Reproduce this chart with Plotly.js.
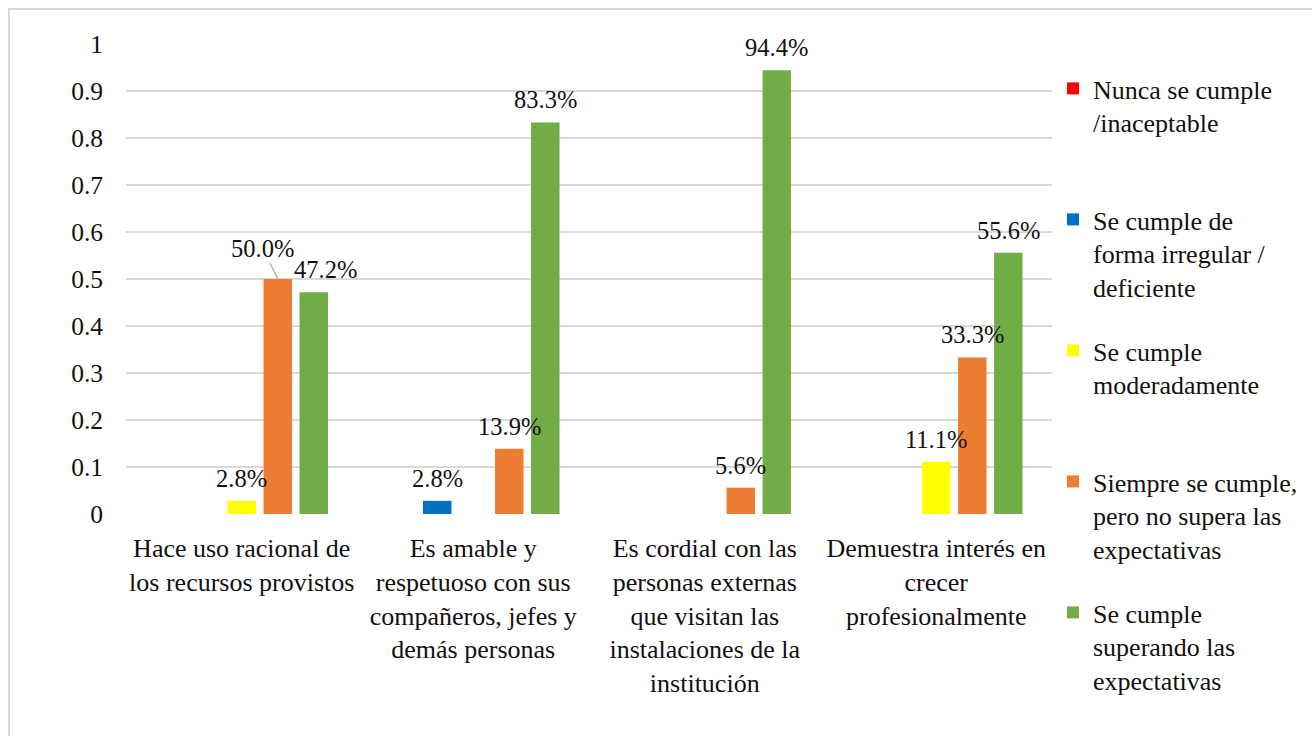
<!DOCTYPE html>
<html>
<head>
<meta charset="utf-8">
<script src="https://cdn.plot.ly/plotly-3.0.1.min.js"></script>
<style>
  html, body { margin: 0; padding: 0; background: #fff; }
  #chart { width: 1312px; height: 736px; }
</style>
</head>
<body>
<div id="chart"></div>
<script>
// Categories (x axis) and rating levels (series)
const categories = [
  "Hace uso racional de<br>los recursos provistos",
  "Es amable y<br>respetuoso con sus<br>compañeros, jefes y<br>demás personas",
  "Es cordial con las<br>personas externas<br>que visitan las<br>instalaciones de la<br>institución",
  "Demuestra interés en<br>crecer<br>profesionalmente"
];

const seriesNames = [
  "Nunca se cumple<br>/inaceptable<br> ",
  "Se cumple de<br>forma irregular /<br>deficiente",
  "Se cumple<br>moderadamente<br> ",
  "Siempre se cumple,<br>pero no supera las<br>expectativas",
  "Se cumple<br>superando las<br>expectativas"
];

const nunca      = [0, 0, 0, 0];
const irregular  = [0, 0.028, 0, 0];
const moderado   = [0.028, 0, 0, 0.111];
const siempre    = [0.500, 0.139, 0.056, 0.333];
const superando  = [0.472, 0.833, 0.944, 0.556];

const seriesValues = [nunca, irregular, moderado, siempre, superando];
const seriesColors = ["#ff0000", "#0070c0", "#ffff00", "#ed7d31", "#70ad47"];

const FONT = "Liberation Serif, Times New Roman, serif";
const TEXT_COLOR = "#111";
const BARGAP = 0.222;
const BARGROUPGAP = 0.21;

// label nudges (pixels) for a few crowded labels: key = series index + ":" + category index
const labelNudge = { "4:0": { dx: 12 } };
const labelArrow = { "3:0": { ax: -15, ay: -31 } };

const traces = seriesValues.map((vals, i) => ({
  type: "bar",
  x: categories,
  y: vals,
  name: seriesNames[i],
  legendgroup: "g" + i,
  marker: { color: seriesColors[i] },
  hoverinfo: "skip"
}));

// value labels above each non-zero bar
const labelFont = { family: FONT, size: 24.5, color: TEXT_COLOR };
const slot = (1 - BARGAP) / seriesValues.length;
const annotations = [];
seriesValues.forEach((vals, i) => {
  vals.forEach((v, c) => {
    if (v <= 0) return;
    const key = i + ":" + c;
    const xc = c + (i - (seriesValues.length - 1) / 2) * slot;
    const txt = (v * 100).toFixed(1) + "%";
    if (labelArrow[key]) {
      annotations.push({
        x: xc, y: v, xref: "x", yref: "y",
        text: txt, showarrow: true, arrowhead: 0, arrowwidth: 1.2,
        arrowcolor: "#a6a6a6", standoff: 0,
        ax: labelArrow[key].ax, ay: labelArrow[key].ay,
        font: labelFont
      });
    } else {
      const n = labelNudge[key] || {};
      annotations.push({
        x: xc, y: v, xref: "x", yref: "y",
        text: txt, showarrow: false,
        xanchor: "center", yanchor: "bottom",
        xshift: n.dx || 0, yshift: 7,
        font: labelFont
      });
    }
  });
});

const L = 126, R = 260, T = 44, B = 222;
const pw = 1312 - L - R, ph = 736 - T - B;

const layout = {
  width: 1312,
  height: 736,
  margin: { l: L, r: R, t: T, b: B, pad: 0, autoexpand: false },
  paper_bgcolor: "#ffffff",
  plot_bgcolor: "#ffffff",
  font: { family: FONT, size: 26, color: TEXT_COLOR },
  barmode: "group",
  bargap: BARGAP,
  bargroupgap: BARGROUPGAP,
  showlegend: true,
  legend: {
    x: (1053 - L) / pw,
    y: (T + ph - 65) / ph,
    xanchor: "left",
    yanchor: "top",
    valign: "top",
    tracegroupgap: 26.6,
    maxheight: 720,
    font: { family: FONT, size: 26, color: TEXT_COLOR },
    bgcolor: "rgba(0,0,0,0)"
  },
  xaxis: {
    type: "category",
    tickfont: { family: FONT, size: 26, color: TEXT_COLOR },
    ticks: "",
    showgrid: false,
    showline: false,
    zeroline: false,
    ticklabelstandoff: 16,
    automargin: false,
    fixedrange: true
  },
  yaxis: {
    range: [0, 1],
    dtick: 0.1,
    tick0: 0,
    tickfont: { family: FONT, size: 25.5, color: TEXT_COLOR },
    ticks: "",
    showgrid: true,
    gridcolor: "#d9d9d9",
    gridwidth: 2,
    zeroline: false,
    showline: false,
    ticklabelstandoff: 22,
    automargin: false,
    fixedrange: true
  },
  annotations: annotations,
  shapes: [{
    type: "rect", xref: "paper", yref: "paper", layer: "below",
    x0: (9 - L) / pw, x1: (1340 - L) / pw,
    y0: (T + ph - 760) / ph, y1: (T + ph - 9) / ph,
    line: { color: "#d9d9d9", width: 2 },
    fillcolor: "rgba(0,0,0,0)"
  }]
};

Plotly.newPlot("chart", traces, layout, { staticPlot: true, displayModeBar: false });
</script>
</body>
</html>
